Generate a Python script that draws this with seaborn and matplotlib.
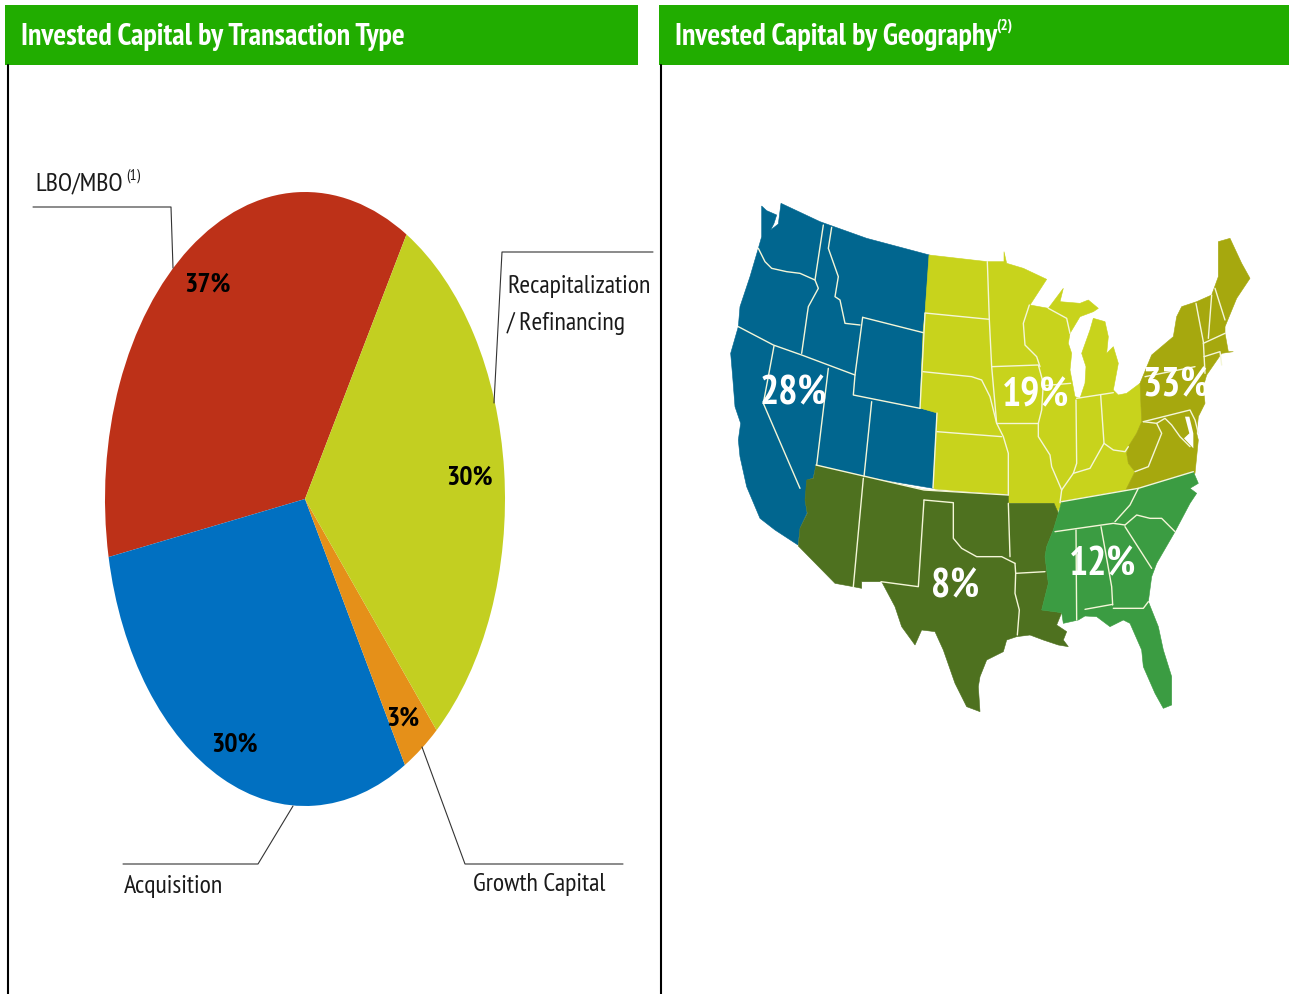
import matplotlib
matplotlib.use("Agg")
import matplotlib.pyplot as plt
import seaborn as sns

W, H = 1289, 994

# pie data
pie_labels = ["LBO/MBO", "Acquisition", "Growth Capital", "Recapitalization / Refinancing"]
pie_values = [36.5, 30.3, 3.1, 30.1]
pie_pct_labels = ["37%", "30%", "3%", "30%"]
pie_colors = ["#BD3118", "#0170C1", "#E59019", "#C3CF21"]

# map region shares
region_names = ["West", "Midwest", "Northeast", "Southwest", "Southeast"]
region_pct_labels = ["28%", "19%", "33%", "8%", "12%"]
region_colors = ["#01668F", "#C8D31C", "#A6A80E", "#4E711F", "#3B9C42"]

# map outlines: (crop left, crop top), crop points at 3x
CROP_W = (720, 190)
CROP_N = (980, 220)
CROP_S = (780, 450)

west_outline = [(125, 48), (140, 62), (170, 75), (162, 100), (152, 120), (175, 102), (183, 40), (300, 95),
                (440, 145), (628, 195), (615, 370), (610, 425), (600, 655), (652, 668), (640, 895), (432, 860),
                (288, 825), (279, 864), (261, 870), (255, 930), (261, 969), (240, 1014), (234, 1065),
                (165, 1020), (120, 985), (80, 890), (60, 800), (55, 750), (62, 700), (45, 650),
                (38, 560), (32, 490), (55, 410), (60, 350), (90, 260), (115, 175), (125, 140)]
south_west_outline = [(108, 45), (432, 120), (685, 135), (685, 160), (822, 160), (835, 190), (820, 240), (800, 290),
                      (795, 320), (805, 400), (785, 480), (845, 488), (830, 525), (860, 545), (850, 570), (865, 590),
                      (835, 585), (790, 570), (750, 555), (710, 560), (680, 570), (670, 605), (620, 630), (600, 680),
                      (595, 710), (600, 785), (560, 770), (525, 700), (490, 600), (465, 545), (425, 540), (405, 585),
                      (365, 530), (345, 470), (305, 395), (245, 395), (245, 415), (220, 410), (165, 400), (55, 288),
                      (60, 235), (82, 190), (75, 150), (80, 90), (100, 85)]
south_east_outline = [(845, 155), (1075, 115), (1240, 65), (1255, 100), (1230, 115), (1250, 130), (1230, 160),
                      (1185, 245), (1130, 340), (1115, 380), (1105, 455), (1135, 530), (1150, 600), (1175, 680),
                      (1175, 765), (1150, 775), (1125, 730), (1090, 650), (1085, 600), (1050, 520), (1030, 510),
                      (990, 530), (950, 500), (915, 498), (895, 510), (850, 520), (845, 488), (785, 480), (805, 400),
                      (795, 320), (800, 290), (820, 240), (835, 190)]
midwest_outline = [(-153, 105), (22, 125), (72, 125), (72, 95), (80, 130), (130, 145), (200, 178), (150, 255),
                   (205, 265), (250, 205), (240, 245), (300, 250), (325, 240), (355, 265), (340, 275), (300, 290),
                   (270, 340), (265, 370), (275, 400), (270, 450), (285, 530), (300, 535), (315, 490), (318, 440),
                   (305, 400), (330, 330), (340, 295), (375, 305), (385, 350), (380, 400), (400, 380), (415, 430),
                   (400, 510), (415, 525), (440, 520), (480, 490), (485, 605), (470, 640), (445, 680), (440, 700),
                   (445, 730), (465, 755), (435, 815), (246, 848), (232, 876), (222, 850), (84, 849), (84, 825),
                   (-135, 807), (-141, 804), (-129, 579), (-180, 564), (-171, 336), (-165, 279)]
northeast_outline = [(480, 490), (515, 405), (580, 350), (590, 290), (605, 260), (650, 245), (695, 225), (715, 170),
                     (715, 65), (750, 55), (785, 130), (810, 175), (770, 235), (735, 320), (735, 340), (745, 395),
                     (760, 395), (725, 400), (680, 465), (670, 500), (675, 550), (655, 590), (650, 640), (655, 660),
                     (645, 760), (435, 815), (465, 755), (445, 730), (440, 700), (445, 680), (470, 640), (485, 605)]
chesapeake_bay = [(615, 590), (628, 640), (612, 655), (640, 685), (640, 640), (628, 590)]

# state borders, same crops as above
west_borders = [
    [(115, 175), (135, 215), (155, 235), (200, 245), (240, 250), (285, 270)],
    [(310, 105), (285, 270), (295, 295), (265, 350), (262, 370), (245, 490)],
    [(335, 112), (325, 175), (355, 260), (345, 320), (360, 330), (375, 400), (420, 405)],
    [(55, 410), (160, 465), (245, 495), (405, 555)],
    [(428, 382), (610, 428)],
    [(428, 382), (405, 555), (400, 615), (600, 655)],
    [(325, 535), (290, 825)],
    [(162, 468), (130, 640), (240, 895)],
    [(455, 635), (432, 860)],
    [(615, 370), (600, 655)],
]
midwest_borders = [
    [(22, 125), (28, 300), (35, 440), (50, 610), (70, 650), (85, 700), (85, 825)],
    [(-165, 279), (28, 298)],
    [(-171, 455), (-25, 470), (5, 480), (30, 530), (50, 610)],
    [(-129, 635), (65, 650)],
    [(35, 440), (175, 435), (190, 490), (185, 570), (175, 610), (175, 650), (210, 705), (215, 740), (245, 810), (240, 848)],
    [(50, 610), (175, 610)],
    [(148, 255), (130, 310), (135, 375), (170, 410), (180, 440)],
    [(190, 497), (272, 490)],
    [(205, 265), (260, 295), (270, 340)],
    [(288, 540), (290, 730), (280, 760), (245, 810)],
    [(290, 535), (400, 518)],
    [(362, 525), (372, 670)],
    [(280, 760), (330, 745), (372, 670), (400, 690), (435, 695), (445, 680)],
    [(-129, 579), (-141, 804)],
]
northeast_borders = [
    [(495, 470), (645, 440)],
    [(490, 605), (630, 570), (645, 600), (655, 640)],
    [(648, 250), (670, 365), (675, 460)],
    [(695, 225), (685, 355)],
    [(705, 205), (735, 300)],
    [(670, 370), (735, 340)],
    [(672, 410), (720, 395), (725, 435)],
    [(490, 605), (530, 610), (555, 595), (575, 615), (600, 650), (630, 680)],
    [(530, 610), (545, 640), (525, 690), (505, 740), (465, 755)],
]
south_west_borders = [
    [(250, 85), (220, 410)],
    [(432, 150), (415, 410), (303, 395)],
    [(432, 150), (520, 158), (520, 265), (545, 295), (590, 320), (640, 320), (665, 320), (705, 340)],
    [(685, 160), (690, 320)],
    [(705, 340), (707, 370), (795, 365)],
    [(707, 370), (705, 430), (718, 480), (712, 555)],
    [(108, 45), (432, 120), (685, 135)],
]
south_east_borders = [
    [(825, 245), (1000, 220), (1035, 225)],
    [(1075, 115), (1050, 165), (1005, 215)],
    [(1035, 225), (1070, 195), (1110, 205), (1145, 205), (1185, 245)],
    [(1035, 230), (1115, 355)],
    [(888, 240), (890, 510)],
    [(963, 230), (995, 410), (998, 465)],
    [(915, 478), (998, 463)],
    [(1000, 475), (1090, 475), (1105, 455)],
    [(845, 155), (1075, 115), (1240, 65)],
]


def from_crop(points, crop):
    xs = [crop[0] + p[0] / 3 for p in points]
    ys = [crop[1] + p[1] / 3 for p in points]
    return xs, ys


sns.set_theme(style="white")
NARROW = ["PT Sans Narrow", "Archivo Narrow", "Liberation Sans", "DejaVu Sans"]
plt.rcParams["font.family"] = NARROW

fig = plt.figure(figsize=(W / 100, H / 100), dpi=100, facecolor="white")

# pie is stretched in the source, so it gets a non-square axes
pie_ax = fig.add_axes([105 / W, 1 - 806 / H, 400 / W, 614 / H])
wedges, _ = pie_ax.pie(pie_values, colors=sns.color_palette(pie_colors), startangle=59.5, counterclock=True,
                       wedgeprops={"linewidth": 0})
pie_ax.set_aspect("auto")
pie_ax.set_xlim(-1, 1)
pie_ax.set_ylim(-1, 1)

ax = fig.add_axes([0, 0, 1, 1], facecolor="none")
ax.set_xlim(0, W)
ax.set_ylim(H, 0)
ax.axis("off")

# panel headers and rules
HEADER = "#21AD00"
for x0, x1 in [(5, 638), (659, 1289)]:
    ax.fill([x0, x1, x1, x0], [5, 5, 65, 65], color=HEADER, lw=0)
for x in [8, 661]:
    ax.plot([x, x], [65, H], color="black", lw=1.5)

title_font = dict(color="white", weight="bold", fontsize=21.6, va="center")
ax.text(21, 37, "Invested Capital by Transaction Type", **title_font)
ax.text(675, 37, "Invested Capital by Geography", **title_font)
ax.text(996, 26, "(2)", color="white", weight="bold", fontsize=11, va="center")

# leader lines
leaders = [([33, 171, 173], [207, 207, 268]),
           ([653, 502, 494], [252, 252, 403]),
           ([123, 258, 293], [864, 864, 806]),
           ([623, 465, 422], [864, 864, 747])]
for xs, ys in leaders:
    ax.plot(xs, ys, color="#333333", lw=0.8)

label_font = dict(color="#1a1a1a", fontsize=18.6, va="center")
ax.text(35, 184, pie_labels[0], **label_font)
ax.text(126, 176, "(1)", color="#1a1a1a", fontsize=11, va="center")
ax.text(507, 287, "Recapitalization", **label_font)
ax.text(507, 323, "/ Refinancing", **label_font)
ax.text(124, 886, pie_labels[1], **label_font)
ax.text(473, 885, pie_labels[2], **label_font)

pct_font = dict(color="black", weight="bold", fontsize=20, ha="center", va="center")
for (x, y), txt in zip([(207, 285), (235, 745), (403, 719), (470, 478)], pie_pct_labels):
    ax.text(x, y, txt, **pct_font)

# map regions
regions = [
    (west_outline, CROP_W, west_borders, region_colors[0]),
    (midwest_outline, CROP_N, midwest_borders, region_colors[1]),
    (northeast_outline, CROP_N, northeast_borders, region_colors[2]),
    (south_west_outline, CROP_S, south_west_borders, region_colors[3]),
    (south_east_outline, CROP_S, south_east_borders, region_colors[4]),
]
for outline, crop, borders, color in regions:
    xs, ys = from_crop(outline, crop)
    ax.fill(xs, ys, color=color, lw=0.4)
for outline, crop, borders, color in regions:
    for line in borders:
        xs, ys = from_crop(line, crop)
        ax.plot(xs, ys, color="#F4F6D8", lw=1.0, solid_joinstyle="round")
xs, ys = from_crop(chesapeake_bay, CROP_N)
ax.fill(xs, ys, color="white", lw=0)

map_font = dict(color="white", weight="bold", fontsize=29, ha="center", va="center")
for (x, y), txt in zip([(793, 394), (1036, 396), (1176, 386), (955, 587), (1103, 565)], region_pct_labels):
    ax.text(x, y, txt, **map_font)

fig.savefig("out.png", dpi=100)
